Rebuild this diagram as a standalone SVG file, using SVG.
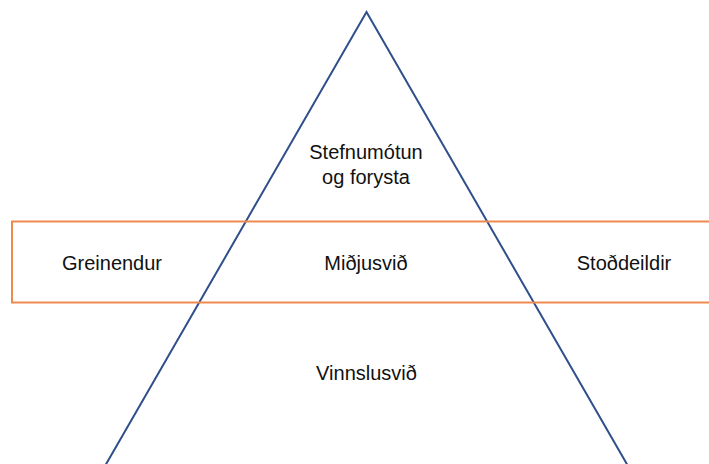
<svg xmlns="http://www.w3.org/2000/svg" width="709" height="464" viewBox="0 0 709 464">
<style>
.t{font-family:"Liberation Sans",Arial,sans-serif;font-size:20px;fill:#111;text-anchor:middle}
.tri{fill:none;stroke:#2F4F8A;stroke-width:2}
.band{fill:none;stroke:#EE8A4E;stroke-width:2}
</style>
<rect width="709" height="464" fill="#fff"/>
<g id="connectors">
<path class="tri" d="M105,466 L366.5,12 L628,466"/>
</g>
<g id="band"><rect class="band" x="12" y="221.5" width="710" height="81"/></g>
<g id="top"><text class="t" x="366" y="159">Stefnumótun</text><text class="t" x="366" y="184">og forysta</text></g>
<g id="greinendur"><text class="t" x="112" y="270">Greinendur</text></g>
<g id="midjusvid"><text class="t" x="366" y="270">Miðjusvið</text></g>
<g id="stodeildir"><text class="t" x="624" y="270">Stoðdeildir</text></g>
<g id="vinnslusvid"><text class="t" x="366.5" y="380">Vinnslusvið</text></g>
</svg>
